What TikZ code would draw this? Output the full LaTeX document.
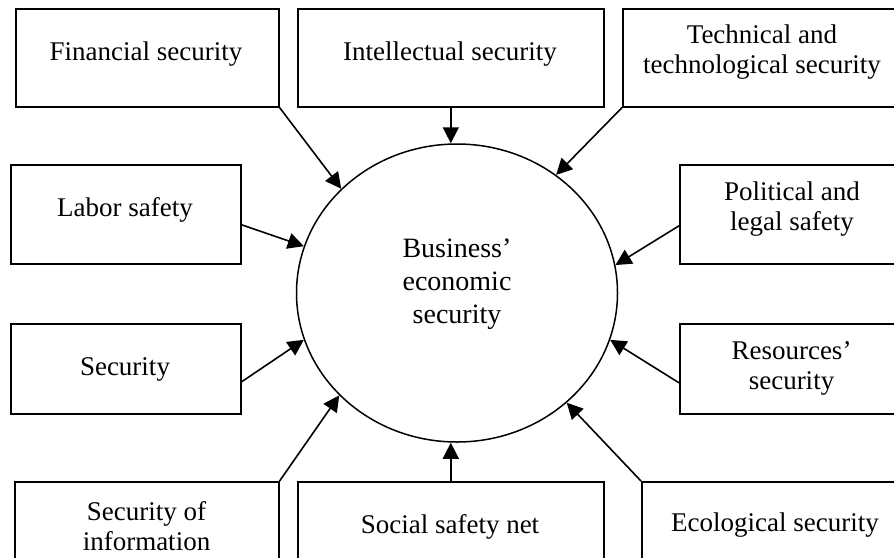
\documentclass[tikz,border=0pt]{standalone}
\usepackage{fontspec}
\setmainfont{Liberation Serif}
\usetikzlibrary{arrows.meta,shapes.geometric}
\begin{document}
\begin{tikzpicture}[x=1pt,y=-1pt,
  box/.style={draw,line width=1.6pt,anchor=north west,inner sep=0pt},
  lbl/.style={align=center,font=\fontsize{27}{30}\selectfont,inner sep=0pt},
  arr/.style={line width=1.6pt,-{Triangle[length=16pt,width=16pt]}}]
\useasboundingbox (0,0) rectangle (894,557);
\node[draw,ellipse,line width=1.5pt,minimum width=321pt,minimum height=298pt,inner sep=0pt] (c) at (457,293) {};
\node[lbl,font=\fontsize{28}{33}\selectfont] (ct) at (457,284) {Business’\\economic\\security};
% boxes
\node[box,minimum width=263pt,minimum height=98pt] (fin) at (15,8) {};
\node[box,minimum width=306pt,minimum height=98pt] (int) at (297,8) {};
\node[box,minimum width=290pt,minimum height=98pt] (tech) at (622,8) {};
\node[box,minimum width=230pt,minimum height=99pt] (lab) at (10,164) {};
\node[box,minimum width=230pt,minimum height=99pt] (pol) at (679,164) {};
\node[box,minimum width=230pt,minimum height=90pt] (sec) at (10,323) {};
\node[box,minimum width=230pt,minimum height=90pt] (res) at (679,323) {};
\node[box,minimum width=264pt,minimum height=100pt] (si) at (14,481) {};
\node[box,minimum width=306pt,minimum height=100pt] (soc) at (297,481) {};
\node[box,minimum width=270pt,minimum height=100pt] (eco) at (641,481) {};
% labels
\node[lbl] (fint) at (146,54) {Financial security};
\node[lbl] (intt) at (450,54) {Intellectual security};
\node[lbl] (techt) at (762,52) {Technical and\\technological security};
\node[lbl] (labt) at (125,209.5) {Labor safety};
\node[lbl] (polt) at (792,209.5) {Political and\\legal safety};
\node[lbl] (sect) at (125,369.5) {Security};
\node[lbl] (rest) at (791.5,368.5) {Resources’\\security};
\node[lbl] (sit) at (146.5,526.5) {Security of\\information};
\node[lbl] (soct) at (450,526.5) {Social safety net};
\node[lbl] (ecot) at (775,525.5) {Ecological security};
% arrows
\draw[arr] (fin.south east) -- (c.138.3);
\draw[arr] (int.south) -- (int.south |- c.north);
\draw[arr] (tech.south west) -- (c.50.4);
\draw[arr] ([yshift=-10.5pt]lab.east) -- (c.163.4);
\draw[arr] ([yshift=-13pt]sec.east) -- (c.197.8);
\draw[arr] ([yshift=-11.5pt]pol.west) -- (c.10.3);
\draw[arr] ([yshift=-14pt]res.west) -- (c.-17.3);
\draw[arr] (si.north east) -- (c.221.9);
\draw[arr] (soc.north) -- (soc.north |- c.south);
\draw[arr] (eco.north west) -- (c.-45.6);
\end{tikzpicture}
\end{document}
